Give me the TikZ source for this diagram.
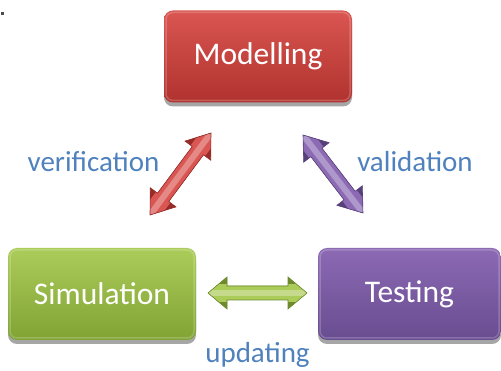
\documentclass[tikz,border=0pt]{standalone}
\usepackage{fontspec}
\setmainfont{Carlito}
\usetikzlibrary{calc,shadows}
\definecolor{redT}{RGB}{218,86,82}
\definecolor{redB}{RGB}{176,50,46}
\definecolor{grnT}{RGB}{172,204,90}
\definecolor{grnB}{RGB}{128,163,52}
\definecolor{purT}{RGB}{140,106,180}
\definecolor{purB}{RGB}{104,76,144}
\definecolor{lblue}{RGB}{79,129,189}
\tikzset{
  box/.style={rounded corners=9pt, minimum width=188pt, minimum height=92pt,
    text=white, font=\fontsize{31.5}{38}\selectfont, inner sep=0pt,
    drop shadow={shadow xshift=0pt, shadow yshift=-4pt, opacity=0.35, fill=black},
    path picture={\draw[white, opacity=0.2, line width=1.5pt, rounded corners=7pt]
      ($(path picture bounding box.south west)+(2pt,2pt)$) rectangle
      ($(path picture bounding box.north east)-(2pt,2pt)$);}},
  lbl/.style={text=lblue, font=\fontsize{29}{35}\selectfont, inner sep=0pt},
}
\newcommand\dblarr[7]{%
  \coordinate (#3p) at ($(#1)!#7!(#2)$);
  \coordinate (#3q) at ($(#2)!#7!(#1)$);
  \def\arrpath{(#1) -- ($(#3p)!16pt!90:(#2)$) -- ($(#3p)!7pt!90:(#2)$)
    -- ($(#3q)!7pt!-90:(#1)$) -- ($(#3q)!16pt!-90:(#1)$) -- (#2)
    -- ($(#3q)!16pt!90:(#1)$) -- ($(#3q)!7pt!90:(#1)$)
    -- ($(#3p)!7pt!-90:(#2)$) -- ($(#3p)!16pt!-90:(#2)$) -- cycle}
  \fill[black, opacity=0.22, yshift=-3pt] \arrpath;
  \begin{scope}
    \clip \arrpath;
    \draw[#4, line width=40pt] (#1) -- (#2);
    \draw[#5, line width=18pt] (#1) -- (#2);
    \draw[#6, line width=6pt] (#1) -- (#2);
  \end{scope}
  \draw[#4, line width=0.6pt, line join=miter] \arrpath;
}
\begin{document}
\begin{tikzpicture}[x=1pt, y=-1pt]
  \useasboundingbox (0,0) rectangle (501,371);
  \fill[black!70] (1,12) rectangle (4,15);
  \node[box, top color=redT, bottom color=redB] (mod) at (258,56.5) {Modelling};
  \node[box, top color=grnT, bottom color=grnB] (sim) at (102,294) {Simulation};
  \node[box, top color=purT, bottom color=purB, minimum width=183pt] (tst) at (409.5,294) {Testing};
  \coordinate (r1) at (150,215);
  \coordinate (r2) at (211,133);
  \coordinate (p1) at (303,135);
  \coordinate (p2) at (363,213);
  \coordinate (g1) at (208,293);
  \coordinate (g2) at (307,293);
  \dblarr{r1}{r2}{ra}{redB!85!black}{redT}{redT!70!white}{22pt}
  \dblarr{p1}{p2}{pa}{purB!85!black}{purT}{purT!70!white}{22pt}
  \dblarr{g1}{g2}{ga}{grnB!85!black}{grnT}{grnT!70!white}{19pt}
  \node[lbl] (ver) at (93.5,162) {verification};
  \node[lbl] (val) at (415,162) {validation};
  \node[lbl] (upd) at (257.5,355) {updating};
\end{tikzpicture}
\end{document}
